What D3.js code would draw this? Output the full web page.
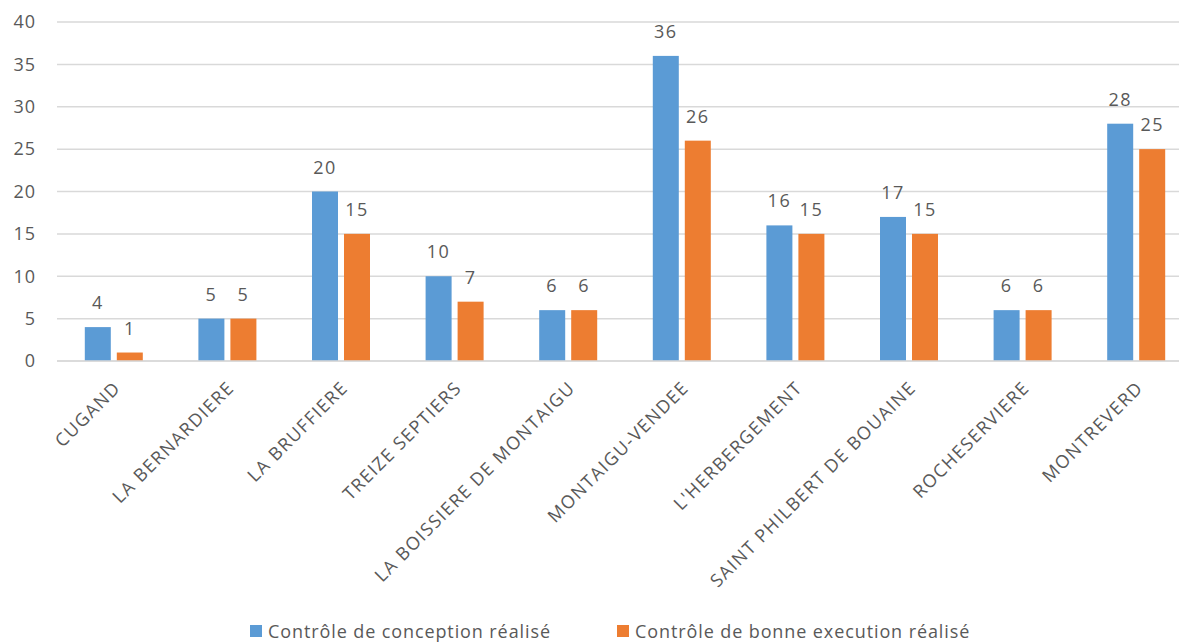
<!DOCTYPE html>
<html>
<head>
<meta charset="utf-8">
<script src="https://cdn.jsdelivr.net/npm/d3@7"></script>
<style>
    body { margin: 0; background: #fff; }
    svg { display: block; font-family: "Open Sans", sans-serif; }
</style>
</head>
<body>
<svg id="chart" width="1179" height="643"></svg>
<script>
const categories = ["CUGAND", "LA BERNARDIERE", "LA BRUFFIERE", "TREIZE SEPTIERS", "LA BOISSIERE DE MONTAIGU",
    "MONTAIGU-VENDEE", "L'HERBERGEMENT", "SAINT PHILBERT DE BOUAINE", "ROCHESERVIERE", "MONTREVERD"];
const seriesNames = ["Contrôle de conception réalisé", "Contrôle de bonne execution réalisé"];
const conception = [4, 5, 20, 10, 6, 36, 16, 17, 6, 28];
const execution = [1, 5, 15, 7, 6, 26, 15, 15, 6, 25];
const yTicks = [0, 5, 10, 15, 20, 25, 30, 35, 40];
const colors = ["#5B9BD5", "#ED7D31"];

const svg = d3.select("#chart");
const textColor = "#595959";

// scales
const x = d3.scaleBand().domain(categories).range([56, 1192]).padding(0);
const x1 = d3.scaleBand().domain([0, 1]).range([-28, 30]).paddingInner(0.1875);
const y = d3.scaleLinear().domain([0, 40]).range([361, 22]);

// gridlines
svg.append("g")
    .selectAll("line")
    .data(yTicks)
    .join("line")
    .attr("x1", 57)
    .attr("x2", 1179)
    .attr("y1", d => y(d))
    .attr("y2", d => y(d))
    .attr("stroke", "#d9d9d9")
    .attr("stroke-width", 1.5);

// y axis labels
const yAxis = svg.append("g")
    .attr("transform", "translate(36,0)")
    .call(d3.axisLeft(y).tickValues(yTicks).tickSize(0).tickPadding(0));
yAxis.select(".domain").remove();
yAxis.selectAll("text")
    .attr("fill", textColor)
    .style("font-size", "18px")
    .style("letter-spacing", "1px")
    .style("font-family", "'Open Sans', sans-serif");

// bars
const rows = categories.map((c, i) => ({ cat: c, values: [conception[i], execution[i]] }));

const groups = svg.append("g")
    .selectAll("g")
    .data(rows)
    .join("g")
    .attr("transform", d => `translate(${x(d.cat) + x.bandwidth() / 2},0)`);

groups.selectAll("rect")
    .data(d => d.values.map((v, s) => ({ v, s })))
    .join("rect")
    .attr("x", d => x1(d.s))
    .attr("width", x1.bandwidth())
    .attr("y", d => y(d.v))
    .attr("height", d => y(0) - y(d.v))
    .attr("fill", d => colors[d.s]);

groups.selectAll("text")
    .data(d => d.values.map((v, s) => ({ v, s })))
    .join("text")
    .attr("x", d => x1(d.s) + x1.bandwidth() / 2)
    .attr("y", d => y(d.v) - 18)
    .attr("text-anchor", "middle")
    .attr("fill", textColor)
    .style("font-size", "18px")
    .style("letter-spacing", "1.5px")
    .text(d => d.v);

// baseline
svg.append("line")
    .attr("x1", 57).attr("x2", 1179)
    .attr("y1", y(0)).attr("y2", y(0))
    .attr("stroke", "#d9d9d9")
    .attr("stroke-width", 1.5);

// category labels
svg.append("g")
    .selectAll("text")
    .data(categories)
    .join("text")
    .attr("transform", d => `translate(${x(d) + x.bandwidth() / 2 + 9},389) rotate(-45)`)
    .attr("text-anchor", "end")
    .attr("fill", textColor)
    .style("font-size", "18px")
    .style("letter-spacing", "1.4px")
    .text(d => d);

// legend
const legend = svg.append("g").attr("transform", "translate(0,631)");
const legendX = [250, 617];
seriesNames.forEach((name, i) => {
    const item = legend.append("g").attr("transform", `translate(${legendX[i]},0)`);
    item.append("rect")
        .attr("x", 0).attr("y", -6)
        .attr("width", 12).attr("height", 12)
        .attr("fill", colors[i]);
    item.append("text")
        .attr("x", 18).attr("y", 7)
        .attr("fill", textColor)
        .style("font-size", "18px")
        .style("letter-spacing", "0.9px")
        .text(name);
});
</script>
</body>
</html>
